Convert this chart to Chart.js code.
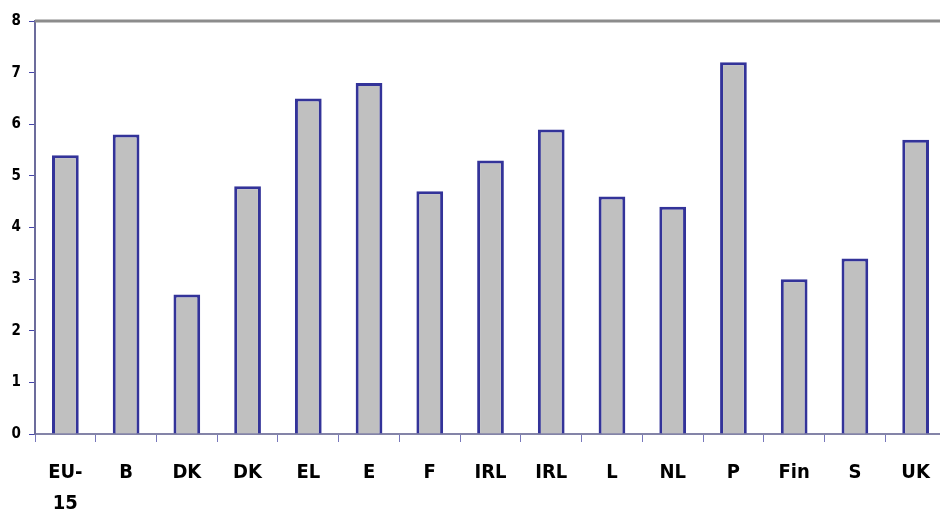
<!DOCTYPE html>
<html>
<head>
<meta charset="utf-8">
<script src="https://cdn.jsdelivr.net/npm/chart.js@4"></script>
<style>
  html, body { margin: 0; padding: 0; background: #fff; overflow: hidden; }
  #wrap { width: 950px; height: 510px; }
</style>
</head>
<body>
<div id="wrap"><canvas id="barChart" width="950" height="510"></canvas></div>
<script>
const countries = [['EU-', '15'], 'B', 'DK', 'DK', 'EL', 'E', 'F', 'IRL', 'IRL', 'L', 'NL', 'P', 'Fin', 'S', 'UK'];
const values = [5.4, 5.8, 2.7, 4.8, 6.5, 6.8, 4.7, 5.3, 5.9, 4.6, 4.4, 7.2, 3.0, 3.4, 5.7];
const yTicks = [0, 1, 2, 3, 4, 5, 6, 7, 8];

const fontFamily = "'DejaVu Sans Condensed', 'DejaVu Sans', sans-serif";

// top border line of plot area
const topBorder = {
    id: 'topBorder',
    afterDraw(chart) {
        const { ctx, chartArea } = chart;
        ctx.save();
        ctx.strokeStyle = '#8c8c8c';
        ctx.lineWidth = 3;
        ctx.beginPath();
        ctx.moveTo(chartArea.left, chartArea.top);
        ctx.lineTo(chartArea.right + 10, chartArea.top);
        ctx.stroke();
        ctx.restore();
    }
};

new Chart(document.getElementById('barChart'), {
    type: 'bar',
    data: {
        labels: countries,
        datasets: [{
            data: values,
            backgroundColor: '#c0c0c0',
            borderColor: '#333399',
            borderWidth: 3,
            categoryPercentage: 1,
            barPercentage: 0.44
        }]
    },
    options: {
        responsive: false,
        animation: false,
        layout: { padding: { top: 21, right: 4, left: 0, bottom: 0 } },
        plugins: { legend: { display: false }, tooltip: { enabled: false } },
        scales: {
            x: {
                grid: { drawOnChartArea: false, tickLength: 8, color: '#7777bb', lineWidth: 1 },
                border: { color: '#8484a8', width: 2 },
                ticks: {
                    color: '#000',
                    font: { family: fontFamily, size: 20, weight: 'bold', lineHeight: 1.55 },
                    padding: 15,
                    maxRotation: 0,
                    autoSkip: false
                },
                afterFit(scale) { scale.height = 76; }
            },
            y: {
                min: 0,
                max: 8,
                afterBuildTicks(scale) { scale.ticks = yTicks.map(v => ({ value: v })); },
                grid: { drawOnChartArea: false, tickLength: 6, color: '#4444aa', lineWidth: 1 },
                border: { color: '#6c6c9c', width: 2 },
                ticks: {
                    color: '#000',
                    font: { family: fontFamily, size: 15, weight: 'bold' },
                    padding: 8
                },
                afterFit(scale) { scale.width = 35; }
            }
        }
    },
    plugins: [topBorder]
});
</script>
</body>
</html>
